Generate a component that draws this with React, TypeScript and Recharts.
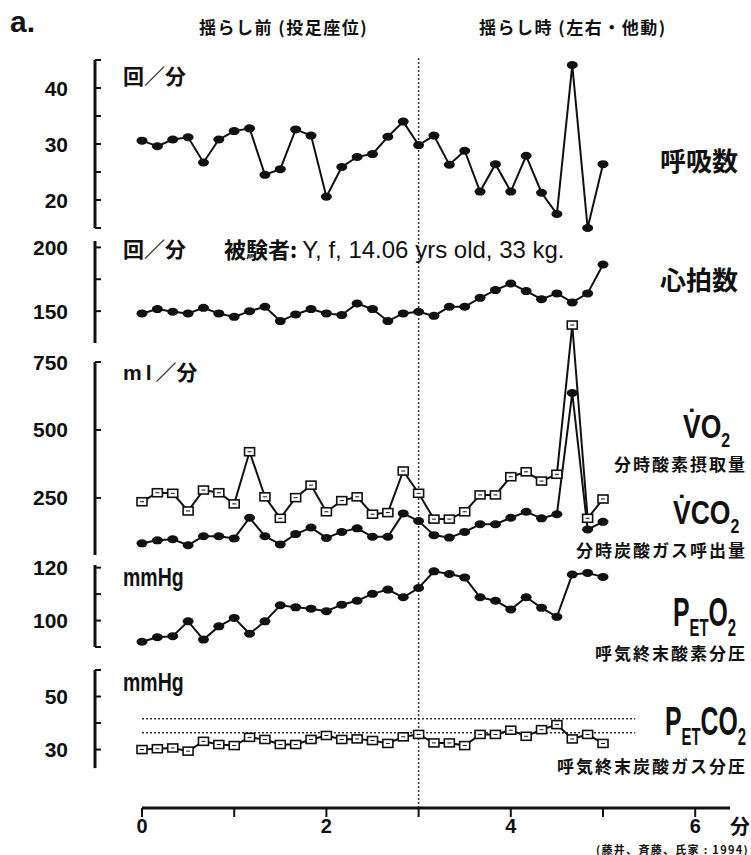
import React from "react";
import { LineChart, Line, XAxis, YAxis, ReferenceLine } from "recharts";

// elapsed time, seconds (one sample every 10 s)
const seconds = [
  0, 10, 20, 30, 40, 50, 60, 70, 80, 90, 100, 110, 120, 130, 140, 150, 160, 170, 180,
  190, 200, 210, 220, 230, 240, 250, 260, 270, 280, 290, 300,
];

// 呼吸数 (回/分)
const respRate = [
  30.6, 29.6, 30.8, 31.2, 26.7, 30.8, 32.3, 32.8, 24.5, 25.5, 32.6, 31.5, 20.6, 25.9, 27.7, 28.2, 31.3, 34.0, 29.8,
  31.5, 26.3, 28.8, 21.5, 26.4, 21.5, 27.9, 21.3, 17.5, 44.1, 15.0, 26.4,
];

// 心拍数 (回/分)
const heartRate = [
  148.2, 151.6, 149.5, 148.2, 152.6, 148.2, 145.5, 150.0, 153.4, 142.2, 147.4, 151.6, 148.2, 146.9, 156.0, 151.6, 142.2, 148.2, 149.5,
  146.3, 153.4, 153.4, 160.4, 166.5, 171.7, 165.7, 159.4, 163.9, 156.8, 163.9, 186.6,
];

// VO2 (ml/分)
const vo2 = [
  236, 269, 267, 202, 279, 269, 228, 420, 254, 175, 251, 297, 199, 240, 254, 190, 196, 349, 267,
  172, 172, 199, 261, 261, 328, 346, 312, 337, 886, 175, 246,
];

// VCO2 (ml/分)
const vco2 = [
  83, 94, 98, 76, 109, 109, 101, 177, 109, 79, 117, 141, 103, 125, 138, 107, 107, 193, 165,
  113, 104, 125, 153, 153, 177, 199, 175, 190, 636, 134, 162,
];

// PETO2 (mmHg)
const peto2 = [
  92.0, 93.7, 94.1, 99.7, 92.8, 97.8, 101.0, 95.0, 99.7, 105.8, 105.0, 104.5, 103.5, 106.0, 107.5, 110.1, 111.7, 108.8, 112.3,
  118.6, 117.6, 116.3, 108.8, 107.5, 104.2, 108.8, 104.8, 101.4, 117.4, 118.0, 116.5,
];

// PETCO2 (mmHg)
const petco2 = [
  30.0, 30.3, 30.6, 29.4, 33.1, 31.9, 31.5, 34.6, 33.8, 31.9, 31.9, 33.8, 35.3, 33.8, 34.0, 33.4, 32.3, 34.8, 35.7,
  32.5, 32.5, 31.5, 35.7, 35.7, 37.3, 35.0, 37.5, 39.4, 34.0, 35.7, 32.3,
];

// normal band of PETCO2 (dotted lines)
const petco2Band = [41.6, 36.3];
const bandEnd = 5.35;

const rockStart = 3; // 揺らし開始 (分)
const xTicks = [0, 1, 2, 3, 4, 5, 6];
const xTickLabels = [0, 2, 4, 6];

const rows = seconds.map((s, i) => ({
  t: s / 60,
  resp: respRate[i],
  hr: heartRate[i],
  vo2: vo2[i],
  vco2: vco2[i],
  peto2: peto2[i],
  petco2: petco2[i],
}));

// layout
const W = 751;
const H = 855;
const AXIS_X = 95;
const ZERO_X = 142;
const PPM = 92.2;
const PLOT_RIGHT = 730;
const X_AXIS_Y = 808;
const X_MAX = (PLOT_RIGHT - ZERO_X) / PPM;
const X_MIN_PANEL = -(ZERO_X - AXIS_X) / PPM;
const INK = "#111";

const LAT = '"Liberation Sans", Arial, sans-serif';
const JP = '"Noto Sans CJK JP", "Noto Sans CJK SC", sans-serif';

type PanelCfg = {
  top: number;
  bottom: number;
  domain: [number, number];
  axis: [number, number];
  ticks: number[];
  labels: number[];
  series: { key: string; marker: "circle" | "square" }[];
  band?: number[];
};

const panels: PanelCfg[] = [
  {
    top: 60, bottom: 228, domain: [15, 45], axis: [15, 45],
    ticks: [15, 20, 25, 30, 35, 40, 45], labels: [20, 30, 40],
    series: [{ key: "resp", marker: "circle" }],
  },
  {
    top: 241, bottom: 343, domain: [125, 205], axis: [125, 205],
    ticks: [150, 175, 200], labels: [150, 200],
    series: [{ key: "hr", marker: "circle" }],
  },
  {
    top: 315.8, bottom: 555, domain: [40, 920], axis: [40, 750],
    ticks: [250, 500, 750], labels: [250, 500, 750],
    series: [
      { key: "vo2", marker: "square" },
      { key: "vco2", marker: "circle" },
    ],
  },
  {
    top: 565, bottom: 647, domain: [90, 121], axis: [90, 121],
    ticks: [90, 100, 110, 120], labels: [100, 120],
    series: [{ key: "peto2", marker: "circle" }],
  },
  {
    top: 670, bottom: 757.5, domain: [27, 60], axis: [23, 60],
    ticks: [30, 40, 50, 60], labels: [30, 50],
    series: [{ key: "petco2", marker: "square" }],
    band: petco2Band,
  },
];

const circleDot = (props: any) => {
  const { cx, cy, index } = props;
  return <ellipse key={`c${index}`} cx={cx} cy={cy} rx={5.5} ry={4} fill={INK} />;
};

const squareDot = (props: any) => {
  const { cx, cy, index } = props;
  return (
    <g key={`s${index}`}>
      <rect x={cx - 5} y={cy - 4} width={10} height={8} fill="#fff" stroke={INK} strokeWidth={1.6} />
      <line x1={cx - 2} x2={cx + 2} y1={cy} y2={cy} stroke={INK} strokeWidth={1} />
    </g>
  );
};

const YTick = (props: any) => {
  const { x, y, payload, labels } = props;
  return (
    <g>
      <line x1={AXIS_X} x2={AXIS_X + 6} y1={y} y2={y} stroke={INK} strokeWidth={2} />
      {labels.includes(payload.value) && (
        <text x={x} y={y} textAnchor="end" dominantBaseline="central" fontFamily={LAT} fontWeight={700} fontSize={21} fill={INK}>
          {payload.value}
        </text>
      )}
    </g>
  );
};

const XTick = (props: any) => {
  const { x, y, payload } = props;
  if (!xTickLabels.includes(payload.value)) return <g />;
  return (
    <text x={x} y={y} textAnchor="middle" dominantBaseline="hanging" fontFamily={LAT} fontWeight={700} fontSize={20} fill={INK}>
      {payload.value}
    </text>
  );
};

function Panel({ p }: { p: PanelCfg }) {
  return (
    <div style={{ position: "absolute", left: 0, top: 0 }}>
      <LineChart
        width={W}
        height={H}
        data={rows}
        margin={{ top: p.top, bottom: H - p.bottom, left: 0, right: W - PLOT_RIGHT }}
      >
        <XAxis type="number" dataKey="t" domain={[X_MIN_PANEL, X_MAX]} hide />
        <YAxis
          width={AXIS_X}
          domain={p.domain}
          ticks={p.ticks}
          interval={0}
          axisLine={false}
          tickLine={false}
          tickSize={0}
          tickMargin={27}
          tick={<YTick labels={p.labels} />}
        />
        <ReferenceLine
          segment={[
            { x: X_MIN_PANEL, y: p.axis[0] },
            { x: X_MIN_PANEL, y: p.axis[1] },
          ]}
          stroke={INK}
          strokeWidth={3}
          ifOverflow="visible"
        />
        {p.band &&
          p.band.map((v) => (
            <ReferenceLine
              key={v}
              segment={[
                { x: 0, y: v },
                { x: bandEnd, y: v },
              ]}
              stroke="#333"
              strokeWidth={1.5}
              strokeDasharray="2 2"
            />
          ))}
        {p.series.map((s) => (
          <Line
            key={s.key}
            dataKey={s.key}
            type="linear"
            stroke={INK}
            strokeWidth={2}
            dot={s.marker === "circle" ? circleDot : squareDot}
            activeDot={false}
            isAnimationActive={false}
          />
        ))}
      </LineChart>
    </div>
  );
}

function Txt({ x, y, size, font = JP, weight = 700, right, children, style }: any) {
  const pos: any = right !== undefined ? { right: W - right } : { left: x };
  return (
    <div
      style={{
        position: "absolute",
        top: y,
        ...pos,
        transform: "translateY(-50%)",
        fontFamily: font,
        fontWeight: weight,
        fontSize: size,
        lineHeight: 1,
        whiteSpace: "nowrap",
        color: INK,
        ...style,
      }}
    >
      {children}
    </div>
  );
}

function Chem({ x, y, size, scale, parts }: any) {
  return (
    <div
      style={{
        position: "absolute",
        left: x,
        top: y,
        transform: `translateY(-50%) scaleX(${scale})`,
        transformOrigin: "left center",
        fontFamily: LAT,
        fontWeight: 700,
        fontSize: size,
        lineHeight: 1,
        whiteSpace: "nowrap",
        color: INK,
      }}
    >
      {parts.map(([t, sub]: [string, boolean], i: number) =>
        sub ? (
          <span key={i} style={{ fontSize: size * 0.6, position: "relative", top: size * 0.25 }}>
            {t}
          </span>
        ) : (
          <span key={i}>{t}</span>
        )
      )}
    </div>
  );
}

export default function App() {
  return (
    <div style={{ position: "absolute", left: 0, top: 0, width: W, height: H, background: "#fff", overflow: "hidden" }}>
      {/* time axis + rocking onset line */}
      <div style={{ position: "absolute", left: 0, top: 0 }}>
        <LineChart width={W} height={H} data={rows} margin={{ top: 58, bottom: 0, left: ZERO_X, right: W - PLOT_RIGHT }}>
          <XAxis
            type="number"
            dataKey="t"
            domain={[0, X_MAX]}
            ticks={xTicks}
            interval={0}
            height={H - X_AXIS_Y}
            axisLine={{ stroke: INK, strokeWidth: 3 }}
            tickLine={{ stroke: INK, strokeWidth: 2 }}
            tickSize={9}
            tick={<XTick />}
          />
          <YAxis hide domain={[0, 50]} />
          <Line dataKey="resp" stroke="none" dot={false} activeDot={false} isAnimationActive={false} />
          <ReferenceLine x={rockStart} stroke="#333" strokeWidth={1.5} strokeDasharray="2 2" ifOverflow="visible" />
        </LineChart>
      </div>

      {panels.map((p, i) => (
        <Panel key={i} p={p} />
      ))}

      {/* header */}
      <Txt x={10} y={22} size={30} font={LAT}>a.</Txt>
      <Txt x={199} y={26} size={17} style={{ letterSpacing: 1.5 }}>揺らし前 (投足座位)</Txt>
      <Txt x={479} y={26} size={17} style={{ letterSpacing: 1.5 }}>揺らし時 (左右・他動)</Txt>

      {/* units */}
      <Txt x={123} y={75} size={21}>回／分</Txt>
      <Txt x={123} y={248} size={21}>回／分</Txt>
      <Txt x={224} y={249} size={22}>
        被験者:{" "}
        <span style={{ fontFamily: LAT, fontWeight: 400, fontSize: 24 }}>Y, f, 14.06 yrs old, 33 kg.</span>
      </Txt>
      <Txt x={123} y={372} size={21}>
        <span style={{ fontFamily: LAT, letterSpacing: 4 }}>ml</span>／分
      </Txt>
      <Txt x={123} y={577} size={26} font={LAT} style={{ transform: "translateY(-50%) scaleX(0.75)", transformOrigin: "left center" }}>
        mmHg
      </Txt>
      <Txt x={123} y={682} size={26} font={LAT} style={{ transform: "translateY(-50%) scaleX(0.75)", transformOrigin: "left center" }}>
        mmHg
      </Txt>

      {/* right-hand labels */}
      <Txt x={660} y={160} size={26}>呼吸数</Txt>
      <Txt x={660} y={279} size={26}>心拍数</Txt>
      <Chem x={683} y={426} size={34} scale={0.78} parts={[["V̇O", false], ["2", true]]} />
      <Txt right={747} y={463} size={17} style={{ letterSpacing: 2 }}>分時酸素摂取量</Txt>
      <Chem x={673} y={512} size={34} scale={0.78} parts={[["V̇CO", false], ["2", true]]} />
      <Txt right={747} y={549} size={17} style={{ letterSpacing: 2 }}>分時炭酸ガス呼出量</Txt>
      <Chem x={673} y={612} size={40} scale={0.62} parts={[["P", false], ["ET", true], ["O", false], ["2", true]]} />
      <Txt right={747} y={652} size={17} style={{ letterSpacing: 2 }}>呼気終末酸素分圧</Txt>
      <Chem x={665} y={721} size={40} scale={0.62} parts={[["P", false], ["ET", true], ["CO", false], ["2", true]]} />
      <Txt right={747} y={765} size={17} style={{ letterSpacing: 2 }}>呼気終末炭酸ガス分圧</Txt>

      {/* axis unit + source */}
      <Txt x={730} y={826} size={20}>分</Txt>
      <Txt right={749} y={849} size={11} style={{ letterSpacing: 1.3 }}>(藤井、斉藤、氏家 : 1994)</Txt>
    </div>
  );
}
